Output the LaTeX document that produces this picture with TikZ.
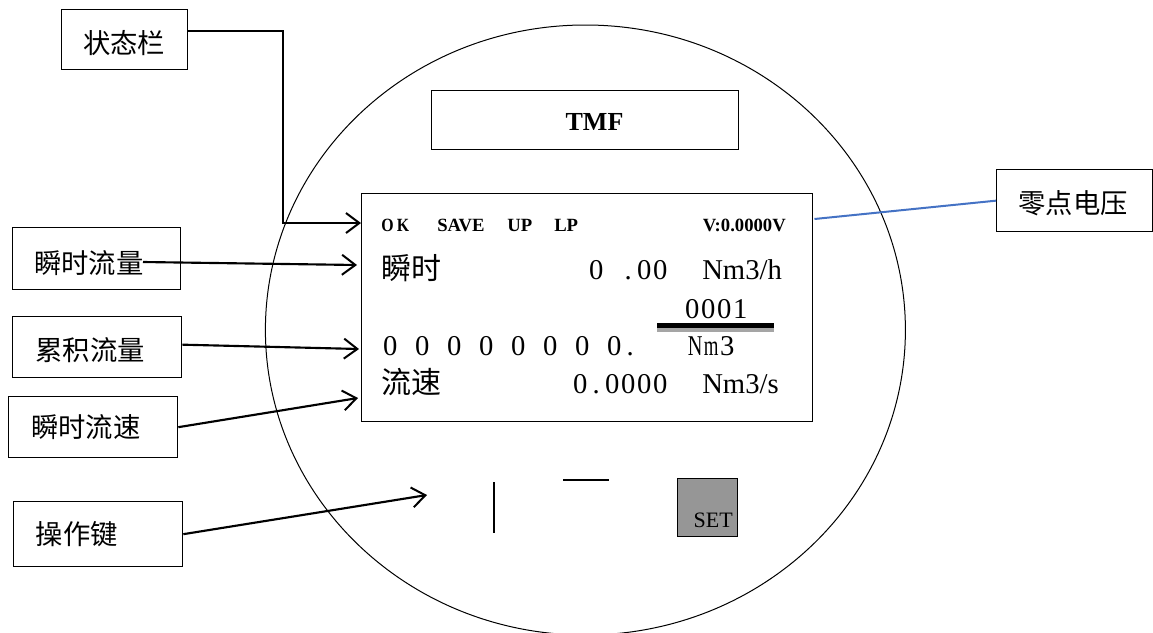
\documentclass[tikz,border=0pt]{standalone}
\usepackage{fontspec}
\usepackage{graphicx}
\usetikzlibrary{arrows.meta,calc}
\setmainfont{Liberation Serif}
\newfontfamily\cjk{Noto Sans CJK SC}
\newfontfamily\lcd{Liberation Serif}

% one drawing unit
\newcommand\pxu{0.75pt}

% fixed-pitch cells for the display digits (wide glyphs are squeezed)
\newsavebox\monobox
\newlength\monoht
\newcommand\monocell[1]{\sbox\monobox{#1}\setlength\monoht{\ht\monobox}%
  \ifdim\wd\monobox>11pt\makebox[12pt]{\resizebox{11pt}{\monoht}{\usebox\monobox}}%
  \else\makebox[12pt]{\usebox\monobox}\fi}
\def\monoloop#1{\ifx#1\relax\else\monocell{#1}\expandafter\monoloop\fi}
\newcommand\mono[1]{\monoloop#1\relax}

\definecolor{linkblue}{HTML}{4472C4}
\definecolor{keygray}{RGB}{150,150,150}
\definecolor{shadegray}{RGB}{165,165,165}

\begin{document}
\begin{tikzpicture}[x=0.75pt,y=-0.75pt,
  tag/.style={draw=black, line width=1pt, inner sep=0pt, anchor=north west},
  tagtext/.style={font=\cjk\fontsize{20.5pt}{24pt}\selectfont, inner sep=0pt},
  conn/.style={line width=1.6pt,
    -{Straight Barb[length=10pt,width=15pt,line width=1.5pt]}},
  stat/.style={font=\lcd\bfseries\fontsize{14pt}{16pt}\selectfont, inner sep=0pt, anchor=base west},
  lcdcn/.style={font=\cjk\fontsize{22.5pt}{26pt}\selectfont, inner sep=0pt, anchor=base west},
  lcdnum/.style={font=\lcd\fontsize{21.5pt}{25pt}\selectfont, inner sep=0pt, anchor=base west}]
\useasboundingbox (0,0) rectangle (1153,632);

% meter housing
\draw[line width=0.75pt] (585.4,330) ellipse [x radius=240pt, y radius=228.75pt];

% name plate
\node[tag, minimum width=307*\pxu, minimum height=59*\pxu,
  label={[font=\lcd\bfseries\fontsize{19.5pt}{22pt}\selectfont, inner sep=0pt, xshift=7pt, yshift=-1.5pt]center:TMF}]
  (tmf) at (431,90) {};

% display window
\node[draw=black, line width=1.1pt, fill=white, anchor=north west, inner sep=0pt,
  minimum width=451*\pxu, minimum height=228*\pxu] (scr) at (361,193) {};

% status line
\node[stat] (okflag) at (381,231) {\scalebox{0.85}[1]{O}\kern2.5pt\scalebox{0.85}[1]{K}};
\node[stat] (saveflag) at (437,231) {SAVE};
\node[stat] (upflag) at (507,231) {UP};
\node[stat] (lpflag) at (554,231) {LP};
\node[stat, anchor=base east] (volt) at (786,231) {V:0.0000V};

% instantaneous flow
\node[lcdcn] (r2cn) at (381,279) {瞬时};
\node[lcdnum] (r2val) at (588,279) {\mono{0~.00}};
\node[lcdnum] (r2unit) at (702,279) {Nm3/h};

% totaliser multiplier
\node[lcdnum] (mult) at (684,318) {\mono{0001}};
\fill[black] (657,323) rectangle (774,328);
\fill[shadegray] (657,328) rectangle (774,332);

% totalised flow
\node[lcdnum] (r3val) at (382,355) {\mono{0~0~0~0~0~0~0~0.}};
\node[lcdnum] (r3unit) at (687,355) {\mono{Nm3}};

% flow velocity
\node[lcdcn] (r4cn) at (381,393) {流速};
\node[lcdnum] (r4val) at (572,393) {\mono{0.0000}};
\node[lcdnum] (r4unit) at (702,393) {Nm3/s};

% keys
\draw[line width=1.5pt] (494,482) -- (494,533);
\draw[line width=1.8pt] (563,480) -- (609,480);
\node[draw=black, line width=1pt, fill=keygray, anchor=north west, inner sep=0pt,
  minimum width=60*\pxu, minimum height=58*\pxu] (setkey) at (677,478) {};
\node[font=\lcd\fontsize{16.5pt}{19pt}\selectfont, inner sep=0pt, anchor=base east]
  (settext) at (733,527) {SET};

% callout boxes
\node[tag, minimum width=126*\pxu, minimum height=60*\pxu,
  label={[tagtext, xshift=-0.4pt, yshift=-2.2pt]center:状态栏}] (st) at (61,9) {};
\node[tag, minimum width=168*\pxu, minimum height=62*\pxu,
  label={[tagtext, xshift=-6pt, yshift=-3.5pt]center:瞬时流量}] (fl) at (12,227) {};
\node[tag, minimum width=169*\pxu, minimum height=61*\pxu,
  label={[tagtext, xshift=-5.2pt, yshift=-1.9pt]center:累积流量}] (tot) at (12,316) {};
\node[tag, minimum width=169*\pxu, minimum height=61*\pxu,
  label={[tagtext, xshift=-5.6pt, yshift=0.3pt]center:瞬时流速}] (spd) at (8,396) {};
\node[tag, minimum width=169*\pxu, minimum height=65*\pxu,
  label={[tagtext, xshift=-16.1pt, yshift=0.3pt]center:操作键}] (key) at (13,501) {};
\node[tag, minimum width=156*\pxu, minimum height=62*\pxu,
  label={[tagtext, xshift=-1.1pt, yshift=-2.2pt]center:零点电压}] (zv) at (996,169) {};

% connector ends
\coordinate (st-out) at ($(st.north east)+(0,22)$);
\coordinate (st-in) at (361,223);
\coordinate (fl-out) at (143,262);
\coordinate (fl-in) at (357,265);
\coordinate (tot-out) at ($(tot.east)+(0,-2.5)$);
\coordinate (tot-in) at (359,349);
\coordinate (spd-in) at (358,398);
\coordinate (key-in) at (427,495);
\coordinate (zv-in) at ($(scr.north east)+(1,26)$);

% connectors
\draw[conn] (st-out) -- ++(95,0) |- (st-in);
\draw[conn] (fl-out) -- (fl-in);
\draw[conn] (tot-out) -- (tot-in);
\draw[conn] (spd.east) -- (spd-in);
\draw[conn] (key.east) -- (key-in);
\draw[linkblue, line width=1.5pt] (zv.west) -- (zv-in);
\end{tikzpicture}
\end{document}
